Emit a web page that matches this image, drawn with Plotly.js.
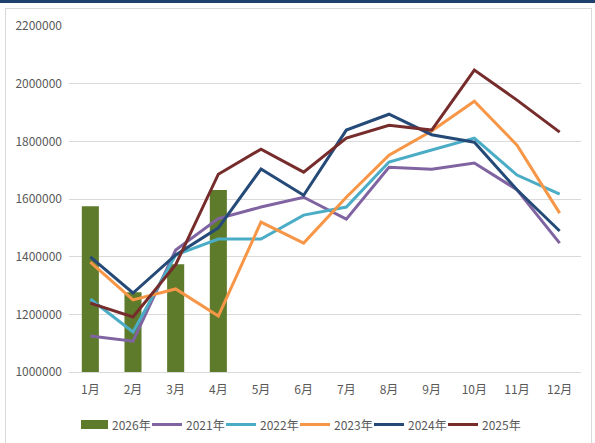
<!DOCTYPE html>
<html>
<head>
<meta charset="utf-8">
<script src="https://cdn.plot.ly/plotly-3.0.1.min.js"></script>
<style>
  html, body { margin: 0; padding: 0; background: #ffffff; }
  #wrap { position: relative; width: 595px; height: 443px; overflow: hidden; }
  #chart { position: absolute; left: 0; top: 0; width: 595px; height: 443px; }
  .topbar { position: absolute; left: 0; top: 0; width: 595px; height: 3px; background: #1f3f6e; }
  .frame { position: absolute; left: 5px; top: 8px; width: 587px; height: 440px; border: 1px solid #d9d9d9; box-sizing: border-box; pointer-events: none; }
</style>
</head>
<body>
<div id="wrap">
  <div id="chart"></div>
  <div class="topbar"></div>
  <div class="frame"></div>
</div>
<script>
const months = ["1月","2月","3月","4月","5月","6月","7月","8月","9月","10月","11月","12月"];
const tickVals = [1000000, 1200000, 1400000, 1600000, 1800000, 2000000, 2200000];
const tickText = ["1000000","1200000","1400000","1600000","1800000","2000000","2200000"];

const s2026 = [1575000, 1277000, 1374000, 1631000];
const s2021 = [1125000, 1107000, 1423000, 1532000, 1572000, 1606000, 1530000, 1710000, 1703000, 1725000, 1632000, 1447000];
const s2022 = [1253000, 1139000, 1406000, 1461000, 1461000, 1544000, 1572000, 1728000, 1770000, 1811000, 1683000, 1617000];
const s2023 = [1381000, 1250000, 1288000, 1194000, 1520000, 1447000, 1606000, 1752000, 1836000, 1939000, 1787000, 1551000];
const s2024 = [1399000, 1274000, 1406000, 1500000, 1704000, 1613000, 1839000, 1894000, 1823000, 1797000, 1632000, 1489000];
const s2025 = [1239000, 1191000, 1372000, 1686000, 1773000, 1693000, 1811000, 1856000, 1839000, 2047000, 1943000, 1832000];

const lineW = 3;
const traces = [
  {type: "bar", name: "2026年", x: months.slice(0, s2026.length), y: s2026,
   marker: {color: "#5e7b2b"}, width: 0.4},
  {type: "scatter", mode: "lines", name: "2021年", x: months, y: s2021, line: {color: "#8064a2", width: lineW}},
  {type: "scatter", mode: "lines", name: "2022年", x: months, y: s2022, line: {color: "#4bacc6", width: lineW}},
  {type: "scatter", mode: "lines", name: "2023年", x: months, y: s2023, line: {color: "#f79646", width: lineW}},
  {type: "scatter", mode: "lines", name: "2024年", x: months, y: s2024, line: {color: "#254a78", width: lineW}},
  {type: "scatter", mode: "lines", name: "2025年", x: months, y: s2025, line: {color: "#772c2c", width: lineW}}
];

const fam = "'Noto Sans CJK SC', 'Noto Sans', sans-serif";
const txtColor = "#595959";

// plot-area geometry (pixels) used to place a custom legend below the axis
const M = {l: 69, r: 14, t: 26, b: 71};
const W = 595, H = 443;
const pw = W - M.l - M.r, ph = H - M.t - M.b;
const px2x = px => (px - M.l) / pw;
const py2y = py => (H - M.b - py) / ph;

const shapes = [];
const annotations = [];
let cur = 81;
const legY = 424.5;
traces.forEach(tr => {
  const color = tr.type === "bar" ? tr.marker.color : tr.line.color;
  const sw = tr.type === "bar" ? 27 : 30;
  if (tr.type === "bar") {
    shapes.push({type: "rect", xref: "paper", yref: "paper",
      x0: px2x(cur), x1: px2x(cur + sw), y0: py2y(legY + 4.5), y1: py2y(legY - 4.5),
      fillcolor: color, line: {width: 0}, layer: "above"});
  } else {
    shapes.push({type: "line", xref: "paper", yref: "paper",
      x0: px2x(cur), x1: px2x(cur + sw), y0: py2y(legY), y1: py2y(legY),
      line: {color: color, width: 3}, layer: "above"});
  }
  annotations.push({xref: "paper", yref: "paper", x: px2x(cur + sw + 2), y: py2y(legY),
    xanchor: "left", yanchor: "middle", text: tr.name, showarrow: false,
    font: {family: fam, size: 12, color: txtColor}});
  cur += sw + 3 + 38 + 3;
});

const layout = {
  width: W, height: H,
  margin: {l: M.l, r: M.r, t: M.t, b: M.b, pad: 0},
  paper_bgcolor: "rgba(0,0,0,0)",
  plot_bgcolor: "#ffffff",
  font: {family: fam, size: 12, color: txtColor},
  showlegend: false,
  xaxis: {type: "category", categoryorder: "array", categoryarray: months, range: [-0.5, 11.5],
          showgrid: false, zeroline: false, showline: true, linecolor: "#d9d9d9", linewidth: 1,
          ticks: "", ticklabelstandoff: 7, tickfont: {family: fam, size: 12, color: txtColor}, fixedrange: true},
  yaxis: {range: [1000000, 2200000], tickvals: tickVals, ticktext: tickText,
          showgrid: true, gridcolor: "#d9d9d9", gridwidth: 1, zeroline: false, showline: false,
          ticks: "", ticklabelstandoff: 6, tickfont: {family: fam, size: 12, color: txtColor}, fixedrange: true},
  shapes: shapes,
  annotations: annotations
};

Plotly.newPlot("chart", traces, layout, {displayModeBar: false, staticPlot: true});
</script>
</body>
</html>
